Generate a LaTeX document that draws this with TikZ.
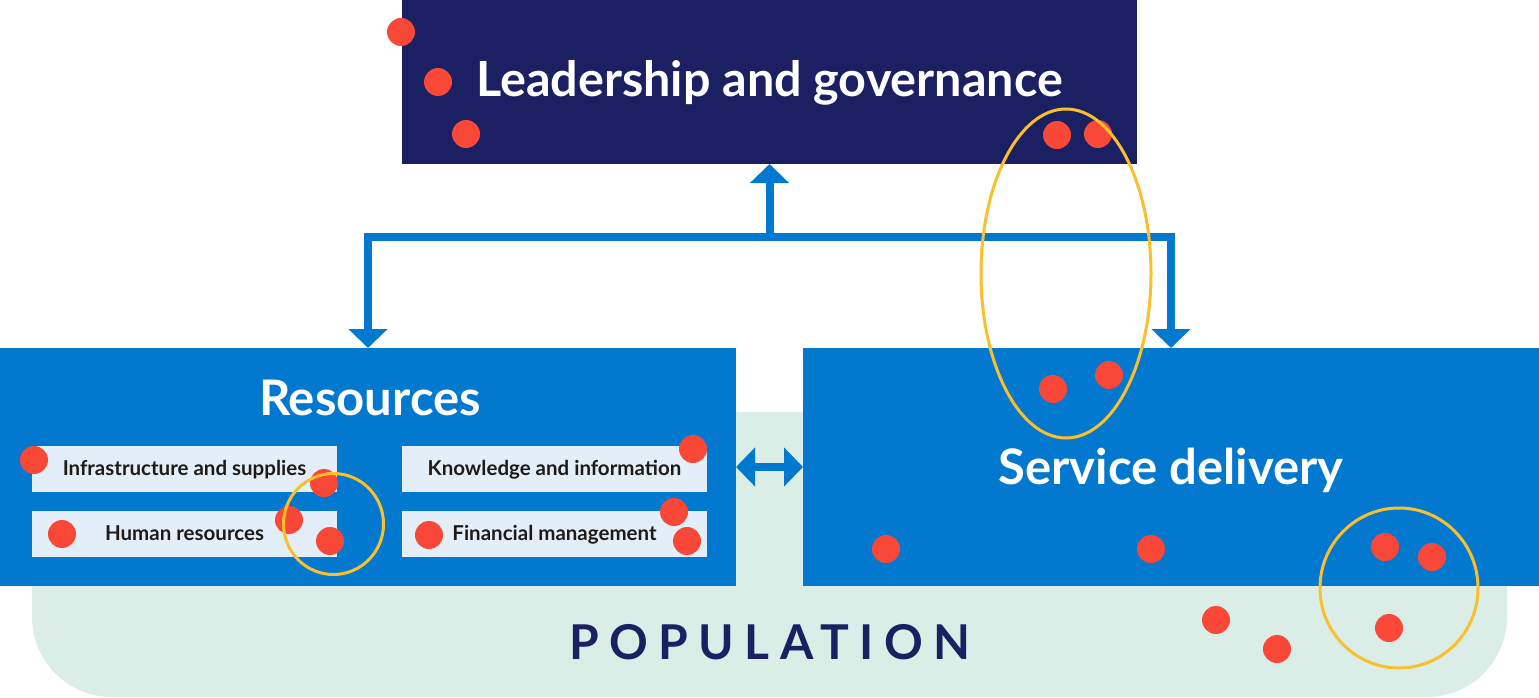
\documentclass[tikz,border=0pt]{standalone}
\usepackage{fontspec}
\setmainfont{Lato}
\newfontfamily\popfont[LetterSpace=21.5]{Lato}
\usetikzlibrary{arrows.meta}
\definecolor{navy}{HTML}{1B2063}
\definecolor{mainblue}{HTML}{0378CF}
\definecolor{mint}{HTML}{DAEEE7}
\definecolor{palebox}{HTML}{E3EEF8}
\definecolor{dotred}{HTML}{FA4838}
\definecolor{ringyellow}{HTML}{FBBF2B}
\definecolor{darktext}{HTML}{1F1A17}
\tikzset{
  bigbox/.style={rectangle, inner sep=0pt, outer sep=0pt},
  subbox/.style={rectangle, fill=palebox, inner sep=0pt, outer sep=0pt, minimum width=305pt, minimum height=46pt},
  bigtext/.style={text=white, font=\bfseries\fontsize{49}{58}\selectfont, anchor=base, inner sep=0pt},
  subtext/.style={text=darktext, font=\bfseries\fontsize{20.5}{24}\selectfont, anchor=base, inner sep=0pt},
  conn/.style={draw=mainblue, line width=8pt},
  headtip/.tip={Triangle[width=38pt,length=19pt]},
  dotmark/.style={circle, fill=dotred, minimum size=28pt, inner sep=0pt},
  ring/.style={draw=ringyellow, line width=3pt}
}
\begin{document}
\begin{tikzpicture}[x=1pt,y=-1pt]
\useasboundingbox (0,0) rectangle (1539,698);
% population area
\fill[mint, rounded corners=80pt] (32,412) -- (32,697) -- (1507,697) -- (1507,412) -- cycle;
\node[text=navy, font=\popfont\bfseries\fontsize{48}{56}\selectfont, anchor=base, inner sep=0pt] (pop) at (770,659) {POPULATION};
% main boxes
\node[bigbox, fill=navy, minimum width=735pt, minimum height=164pt] (lead) at (769.5,82) {};
\node[bigbox, fill=mainblue, minimum width=736pt, minimum height=238pt] (res) at (368,467) {};
\node[bigbox, fill=mainblue, minimum width=736pt, minimum height=238pt] (svc) at (1171,467) {};
\node[bigtext, font=\bfseries\fontsize{48.5}{58}\selectfont] (tlead) at (769.5,97) {Leadership and governance};
\node[bigtext] (tres) at (370,415) {Resources};
\node[bigtext] (tsvc) at (1171,484) {Service delivery};
% sub boxes
\node[subbox] (infra) at (184.5,469) {};
\node[subbox] (human) at (184.5,534) {};
\node[subbox] (know) at (554.5,469) {};
\node[subbox] (fin) at (554.5,534) {};
\node[subtext] (tinfra) at (184.5,475) {Infrastructure and supplies};
\node[subtext] (thuman) at (184.5,540) {Human resources};
\node[subtext] (tknow) at (554.5,475) {Knowledge and information};
\node[subtext] (tfin) at (554.5,540) {Financial management};
% connectors
\coordinate (j) at (769.5,237);
\draw[conn, -headtip] (j) -- (lead.south);
\draw[conn, -headtip] (j) -| (res.north);
\draw[conn, -headtip] (j) -| (svc.north);
\draw[conn, headtip-headtip] (res.east) -- (svc.west);
% red dots
\foreach \i/\x/\y in {1/401/32, 2/438/82, 3/466/134, 4/1057/135, 5/1098/134,
  6/1053/389, 7/1109/375, 8/34/460, 9/324/483, 10/289/520, 11/330/541, 12/62/534,
  13/693/449, 14/674/512, 15/687/541, 16/429/535, 17/886/549, 18/1151/549,
  19/1385/547, 20/1432/557, 21/1216/620, 22/1277/649, 23/1389/628}
  \node[dotmark] (d\i) at (\x,\y) {};
% yellow rings
\draw[ring] (1066,273.5) ellipse [x radius=85, y radius=164.5];
\draw[ring] (333.5,524) ellipse [x radius=50, y radius=50.5];
\draw[ring] (1399,588) ellipse [x radius=79, y radius=80];
\end{tikzpicture}
\end{document}
